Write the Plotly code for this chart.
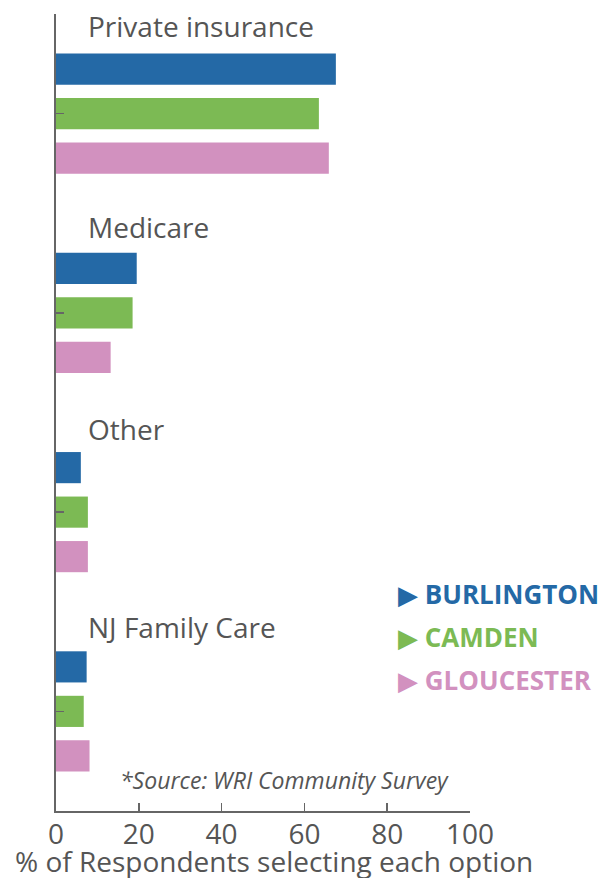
import plotly.graph_objects as go

categories = ["Private insurance", "Medicare", "Other", "NJ Family Care"]
series_names = ["BURLINGTON", "CAMDEN", "GLOUCESTER"]
burlington = [67.6, 19.5, 6.0, 7.4]
camden = [63.5, 18.5, 7.7, 6.7]
gloucester = [65.9, 13.2, 7.7, 8.1]
colors = ["#2469A6", "#7CBA54", "#D291BF"]
x_ticks = [0, 20, 40, 60, 80, 100]

values = [burlington, camden, gloucester]
FONT = "Open Sans"
GREY = "#555555"

W, H = 608, 878
plot_left, plot_right, plot_top, plot_bottom = 56, 470, 14, 811
plot_w = plot_right - plot_left
plot_h = plot_bottom - plot_top


def px(x):
    return (x - plot_left) / plot_w


def py(y):
    return (plot_bottom - y) / plot_h


fig = go.Figure()
for name, vals, col in zip(series_names, values, colors):
    fig.add_trace(go.Bar(
        y=categories, x=vals, name=name, orientation="h",
        marker=dict(color=col, line=dict(width=0)),
        showlegend=False, hoverinfo="skip",
    ))

fig.update_layout(
    width=W, height=H,
    margin=dict(l=plot_left, r=W - plot_right, t=plot_top, b=H - plot_bottom),
    paper_bgcolor="white", plot_bgcolor="white",
    barmode="group", bargap=0.33, bargroupgap=0.30,
    font=dict(family=FONT, color=GREY),
)
fig.update_xaxes(
    range=[0, 100], tickvals=x_ticks, ticktext=[str(t) for t in x_ticks],
    showgrid=False, zeroline=False, showline=True, linecolor="#666666", linewidth=2,
    ticks="inside", ticklen=8, tickwidth=1.5, tickcolor="#666666",
    tickfont=dict(size=28, color=GREY, family=FONT),
    ticklabelstandoff=-3,
)
fig.update_yaxes(
    type="category", categoryorder="array", categoryarray=categories,
    range=[len(categories) - 0.5, -0.5],
    showgrid=False, zeroline=False, showline=True, linecolor="#666666", linewidth=2,
    ticks="inside", ticklen=8, tickwidth=1.5, tickcolor="#666666",
    showticklabels=False,
)

# group labels
label_y = [26, 227, 429, 627]
for c, ly in zip(categories, label_y):
    fig.add_annotation(
        x=px(86), xref="paper", y=py(ly), yref="paper",
        text=c, showarrow=False, xanchor="left", yanchor="middle",
        font=dict(size=28, color=GREY, family=FONT),
    )

# legend as annotations
legend_y = [594, 637, 680]
for name, col, ly in zip(series_names, colors, legend_y):
    fig.add_annotation(
        x=px(396), xref="paper", y=py(ly), yref="paper",
        text="▶ <b>" + name + "</b>", showarrow=False,
        xanchor="left", yanchor="middle",
        font=dict(size=26, color=col, family=FONT),
    )

fig.add_annotation(
    x=px(284), xref="paper", y=py(780), yref="paper",
    text="<i>*Source: WRI Community Survey</i>", showarrow=False,
    xanchor="center", yanchor="middle",
    font=dict(size=23, color=GREY, family=FONT),
)
fig.add_annotation(
    x=px(274), xref="paper", y=py(861), yref="paper",
    text="% of Respondents selecting each option", showarrow=False,
    xanchor="center", yanchor="middle",
    font=dict(size=28, color=GREY, family=FONT),
)

fig.write_html(
    "out.html",
    config={"displayModeBar": False, "staticPlot": True},
    post_script="document.body.style.margin='0';",
)
